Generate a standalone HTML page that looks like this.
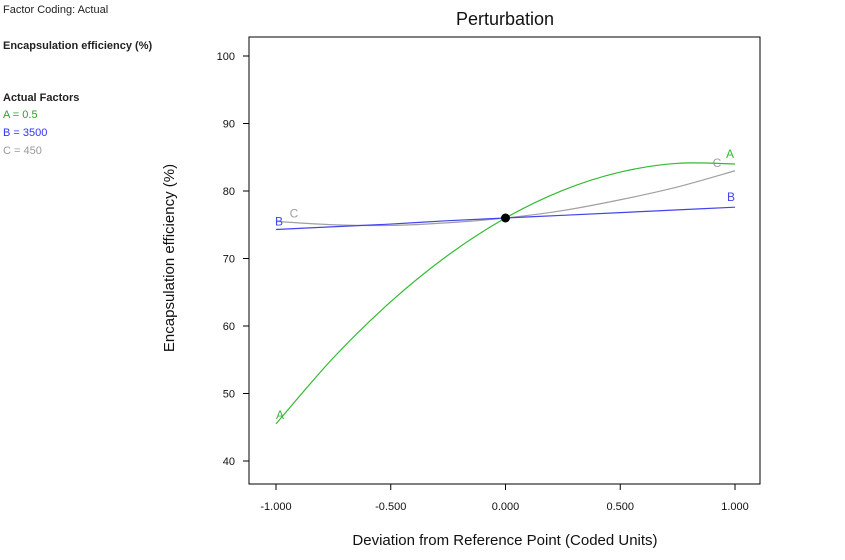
<!DOCTYPE html>
<html><head><meta charset="utf-8"><style>
body{margin:0;background:#fff;}
svg{display:block;font-family:"Liberation Sans","DejaVu Sans",sans-serif;}
</style></head><body>
<svg id="chart" width="845" height="560">
<text x="3" y="13" font-size="11" fill="#222">Factor Coding: Actual</text>
<text x="3" y="49" font-size="11" font-weight="bold" fill="#222">Encapsulation efficiency (%)</text>
<text x="3" y="101" font-size="11" font-weight="bold" fill="#222">Actual Factors</text>
<text x="3" y="118" font-size="11" fill="#2ca02c">A = 0.5</text>
<text x="3" y="136" font-size="11" fill="#3333ff">B = 3500</text>
<text x="3" y="154" font-size="11" fill="#999">C = 450</text>
<text x="505" y="25" font-size="18" text-anchor="middle" fill="#111">Perturbation</text>
<rect x="249" y="37" width="511" height="447" fill="none" stroke="#000" stroke-width="1"/>
<text x="505" y="545" font-size="15" text-anchor="middle" fill="#111">Deviation from Reference Point (Coded Units)</text>
<text transform="translate(174,258) rotate(-90)" font-size="15" text-anchor="middle" fill="#111">Encapsulation efficiency (%)</text>
<g id="axes"></g>
<g id="series"></g>
</svg>
<script>
const xTicks=[-1,-0.5,0,0.5,1];
const xTickLabels=["-1.000","-0.500","0.000","0.500","1.000"];
const yTicks=[40,50,60,70,80,90,100];
const xs=[-1,-0.75,-0.5,-0.25,0,0.25,0.5,0.75,1];
const seriesA=[45.5,55.3,63.6,70.5,76,80.1,82.8,84.1,84];
const seriesB=[74.3,74.7,75.1,75.6,76,76.4,76.8,77.2,77.6];
const seriesC=[75.5,75.0,74.9,75.3,76,77.1,78.7,80.6,83];
const refPoint=[0,76];
const X=v=>505.5+v*229.5;
const Y=v=>461-(v-40)*6.75;
const NS="http://www.w3.org/2000/svg";
const ax=document.getElementById('axes'), sg=document.getElementById('series');
function mk(tag,attrs,parent){const e=document.createElementNS(NS,tag);for(const k in attrs)e.setAttribute(k,attrs[k]);parent.appendChild(e);return e;}
xTicks.forEach((t,i)=>{
 const l=mk('line',{x1:X(t),x2:X(t),y1:484,y2:490,stroke:'#000'},ax);
 
 
 const tx=mk('text',{x:X(t),y:510,'font-size':11,'text-anchor':'middle',fill:'#111'},ax);
 tx.textContent=xTickLabels[i];
 
 
});
yTicks.forEach(t=>{
 const l=mk('line',{x1:243,x2:249,y1:Y(t),y2:Y(t),stroke:'#000'},ax);
 
 
 const tx=mk('text',{x:235,y:Y(t)+4,'font-size':11,'text-anchor':'end',fill:'#111'},ax);
 tx.textContent=t;
 
 
});
function path(vals){
 const p=xs.map((x,i)=>[X(x),Y(vals[i])]);
 let d='M'+p[0][0]+','+p[0][1];
 for(let i=0;i<p.length-1;i++){
  const p0=p[Math.max(0,i-1)],p1=p[i],p2=p[i+1],p3=p[Math.min(p.length-1,i+2)];
  d+=' C'+(p1[0]+(p2[0]-p0[0])/6)+','+(p1[1]+(p2[1]-p0[1])/6)+' '+(p2[0]-(p3[0]-p1[0])/6)+','+(p2[1]-(p3[1]-p1[1])/6)+' '+p2[0]+','+p2[1];
 }
 return d;
}
const defs=[["C",seriesC,"#a0a0a0",[18,-4],[-18,-4]],["B",seriesB,"#4444ee",[3,-4],[-4,-6]],["A",seriesA,"#33bb33",[4,-5],[-5,-6]]];
defs.forEach(([n,vals,col,o0,o1])=>{
 const pa=mk('path',{d:path(vals),fill:'none',stroke:col,'stroke-width':1.2},sg);
 
 
 const l1=mk('text',{x:X(xs[0])+o0[0],y:Y(vals[0])+o0[1],'font-size':12,'text-anchor':'middle',fill:col},sg);
 l1.textContent=n;
 
 
 const last=xs.length-1;
 const l2=mk('text',{x:X(xs[last])+o1[0],y:Y(vals[last])+o1[1],'font-size':12,'text-anchor':'middle',fill:col},sg);
 l2.textContent=n;
 
 
});
const dot=mk('circle',{cx:X(refPoint[0]),cy:Y(refPoint[1]),r:4.5,fill:'#000'},sg);


</script>
</body></html>
